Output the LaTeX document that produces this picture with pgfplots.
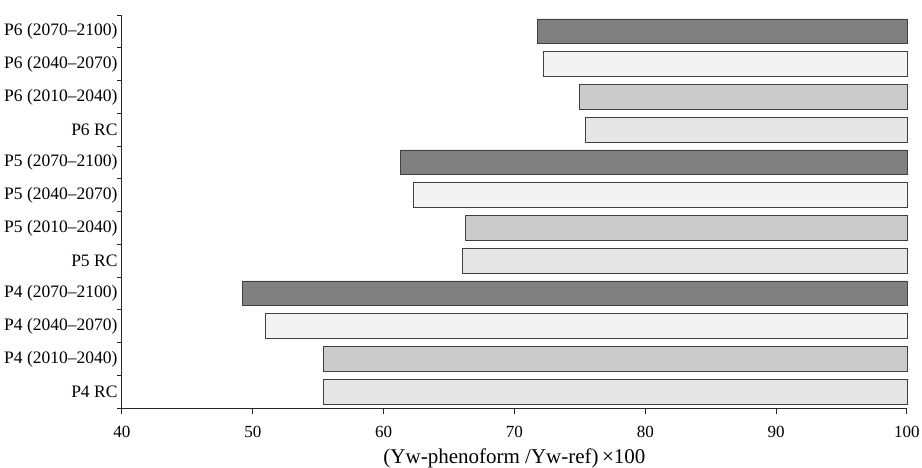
\documentclass[border=0pt]{standalone}
\usepackage{pgfplots}
\pgfplotsset{compat=1.18}
\usepackage{fontspec}
\setmainfont{Liberation Serif}

\definecolor{barline}{HTML}{404040}
\definecolor{cRC}{HTML}{E6E6E6}
\definecolor{cA}{HTML}{CBCBCB}
\definecolor{cB}{HTML}{F3F3F3}
\definecolor{cC}{HTML}{808080}

\begin{document}
\begin{tikzpicture}
\path[use as bounding box] (-122pt,-59pt) rectangle (800pt,408pt);
\begin{axis}[
    at={(0pt,0pt)}, anchor=south west,
    scale only axis,
    width=785pt, height=393pt,
    xbar, bar width=0.76, bar shift=0pt,
    % bars run from the value up to 100
    x coord trafo/.code={\pgfmathparse{#1-100}},
    x coord inv trafo/.code={\pgfmathparse{#1+100}},
    xmin=40, xmax=100,
    ymin=-0.5, ymax=11.5,
    axis x line*=bottom, axis y line*=left,
    axis line style={black!85, line width=1pt},
    xtick={40,50,60,70,80,90,100},
    xticklabels={40,50,60,70,80,90,100},
    ytick={0,...,11},
    yticklabels={P4 RC~, P4 (2010–2040), P4 (2040–2070), P4 (2070–2100),
                 P5 RC~, P5 (2010–2040), P5 (2040–2070), P5 (2070–2100),
                 P6 RC~, P6 (2010–2040), P6 (2040–2070), P6 (2070–2100)},
    minor ytick={-0.5,0.5,...,11.5},
    tick align=outside,
    major tick length=6pt, minor tick length=5pt,
    major y tick style={draw=none},
    tick style={black!85, line width=1pt},
    /pgf/number format/assume math mode=true,
    x tick label style={font=\fontsize{17}{19}\selectfont, yshift=-9pt},
    y tick label style={font=\fontsize{17.5}{19}\selectfont, xshift=5pt},
    xlabel={(Yw-phenoform /Yw-ref)\,×100},
    xlabel style={font=\fontsize{21}{23}\selectfont, yshift=-4pt},
    clip=false,
]
\addplot[draw=barline, fill=cRC, line width=0.8pt] coordinates {(55.43,0) (66.05,4) (75.41,8)};
\addplot[draw=barline, fill=cA, line width=0.8pt] coordinates {(55.43,1) (66.25,5) (74.97,9)};
\addplot[draw=barline, fill=cB, line width=0.8pt] coordinates {(50.99,2) (62.31,6) (72.22,10)};
\addplot[draw=barline, fill=cC, line width=0.8pt] coordinates {(49.18,3) (61.28,7) (71.74,11)};
\end{axis}
\end{tikzpicture}
\end{document}
